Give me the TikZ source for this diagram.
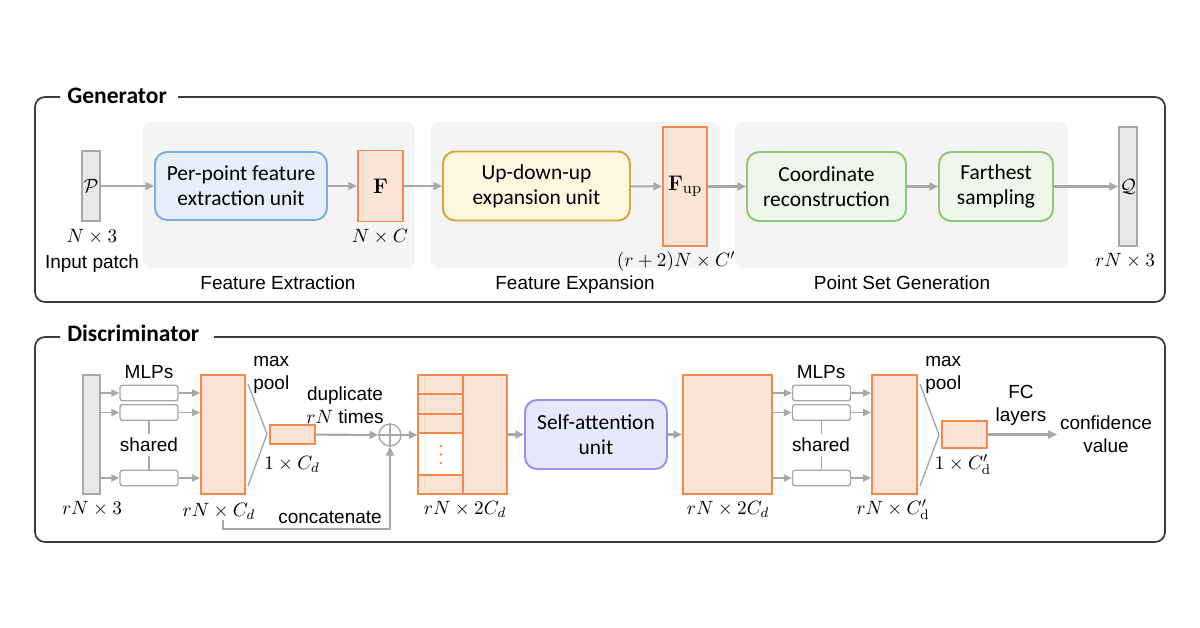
\documentclass[tikz,border=0pt]{standalone}
\usepackage[no-math]{fontspec}
\setmainfont{Liberation Sans}
\newfontfamily\calib{Carlito}
\usetikzlibrary{arrows.meta,calc}
\definecolor{arr}{HTML}{A8A8A8}
\definecolor{org}{HTML}{F38A4A}
\definecolor{orgf}{HTML}{FCE4D6}
\definecolor{bluef}{HTML}{E6EFF9}
\definecolor{blued}{HTML}{78AEE0}
\definecolor{yelf}{HTML}{FFF6E0}
\definecolor{yeld}{HTML}{D3A838}
\definecolor{grnf}{HTML}{EFF6EB}
\definecolor{grnd}{HTML}{8CC878}
\definecolor{lavf}{HTML}{E8E8FC}
\definecolor{lavd}{HTML}{9090F8}
\definecolor{panel}{HTML}{F4F4F4}
\definecolor{barf}{HTML}{E8E8E8}
\definecolor{framec}{HTML}{3A3A3A}
\newcommand{\lblfont}{\fontsize{10.8}{13}\selectfont}
\newcommand{\boxfont}{\calib\fontsize{12.2}{14.2}\selectfont}
\newcommand{\ttlfont}{\calib\bfseries\fontsize{13.4}{16}\selectfont}
\newcommand{\mathfont}{\fontsize{11}{13}\selectfont}
\newcommand{\bigmathfont}{\fontsize{13}{15}\selectfont}
\tikzset{
  lbl/.style={font=\lblfont, inner sep=0pt, align=center},
  one/.style={text height=0.8em, text depth=0.08em},
  mlbl/.style={font=\mathfont, inner sep=0pt, one},
  ttl/.style={font=\ttlfont, inner sep=0pt, anchor=west, one},
  unitbox/.style={draw, rounded corners=0.24cm, line width=1.1pt, font=\boxfont, align=center, inner sep=0pt},
  bluebox/.style={unitbox, draw=blued, fill=bluef},
  yelbox/.style={unitbox, draw=yeld, fill=yelf},
  grnbox/.style={unitbox, draw=grnd, fill=grnf},
  lavbox/.style={unitbox, draw=lavd, fill=lavf},
  feat/.style={draw=org, fill=orgf, line width=1.1pt, inner sep=0pt},
  graybar/.style={draw=arr, fill=barf, line width=1.1pt, inner sep=0pt},
  mlp/.style={draw=arr, fill=white, line width=0.8pt, rounded corners=0.05cm, inner sep=0pt, minimum width=1.16cm, minimum height=0.31cm},
  flow/.style={draw=arr, line width=1.2pt, -{Triangle[length=5pt,width=4.5pt]}},
  thinflow/.style={draw=arr, line width=1pt, -{Triangle[length=4.5pt,width=4pt]}},
  pool/.style={draw=arr, line width=0.8pt},
  frameline/.style={draw=framec, line width=1pt, rounded corners=0.2cm},
  panelbg/.style={fill=panel, rounded corners=0.16cm},
}
\begin{document}
\begin{tikzpicture}[x=0.02cm,y=-0.02cm]
\useasboundingbox (0,0) rectangle (1200,627);

% ================= Generator =================
\draw[frameline] (60,97) -| (35,302) -| (1165,97) -- (178,97);
\node[ttl] (gtitle) at (67,97) {Generator};

\fill[panelbg] (143,122) rectangle (415,268);
\fill[panelbg] (431,122) rectangle (720,268);
\fill[panelbg] (735,122) rectangle (1068,268);
\node[lbl, one] (fe) at (278,283) {Feature Extraction};
\node[lbl, one] (fx) at (575,283) {Feature Expansion};
\node[lbl, one] (psg) at (902,283) {Point Set Generation};

\node[graybar, minimum width=0.36cm, minimum height=1.4cm, font=\mathfont] (P) at (91,186) {$\mathcal{P}$};
\node[mlbl] (Pn) at (92,236) {$N\times 3$};
\node[lbl, one] (Pl) at (92,262) {Input patch};

\node[bluebox, minimum width=3.44cm, minimum height=1.36cm] (pp) at (241,186) {Per-point feature\\extraction unit};
\node[feat, minimum width=0.9cm, minimum height=1.42cm, font=\bigmathfont] (F) at (380.5,186) {$\mathbf{F}$};
\node[mlbl] (Fn) at (380,236) {$N\times C$};

\node[yelbox, minimum width=3.74cm, minimum height=1.38cm] (ud) at (536.5,186) {Up-down-up\\expansion unit};
\node[feat, minimum width=0.88cm, minimum height=2.38cm, font=\bigmathfont] (Fup) at (685,186.5) {$\mathbf{F}_{\mathrm{up}}$};
\node[mlbl] (Fupn) at (676,260) {$(r+2)N\times C'$};

\node[grnbox, minimum width=3.18cm, minimum height=1.38cm] (cr) at (826.5,186.5) {Coordinate\\reconstruction};
\node[grnbox, minimum width=2.28cm, minimum height=1.38cm] (fs) at (996,186.5) {Farthest\\sampling};

\node[graybar, minimum width=0.36cm, minimum height=2.38cm, font=\mathfont] (Q) at (1128,186.5) {$\mathcal{Q}$};
\node[mlbl] (Qn) at (1125,260) {$rN\times 3$};

\draw[flow] (P) -- (pp);
\draw[flow] (pp) -- (F);
\draw[flow] (F) -- (ud);
\draw[flow] (ud) -- (Fup);
\draw[flow] (Fup) -- (cr);
\draw[flow] (cr) -- (fs);
\draw[flow] (fs) -- (Q);

% ================= Discriminator =================
\draw[frameline] (60,337) -| (35,542) -| (1165,337) -- (214,337);
\node[ttl] (dtitle) at (67,335) {Discriminator};

% input
\node[graybar, minimum width=0.34cm, minimum height=2.38cm] (bar) at (91.5,434.5) {};
\node[mlbl] (barn) at (92,508) {$rN\times 3$};

% first shared MLPs
\node[mlp] (m1) at (149,393) {};
\node[mlp] (m2) at (149,412.5) {};
\node[mlp] (m3) at (149,478) {};
\node[lbl, one] (mlps1) at (149,372) {MLPs};
\node[lbl, one] (sh1) at (149,445) {shared};
\draw[pool] (m2.south) -- (149,434);
\draw[pool] (149,456) -- (m3.north);

\node[feat, minimum width=0.88cm, minimum height=2.38cm] (b1) at (223,434.5) {};
\node[mlbl] (b1n) at (219,510) {$rN\times C_d$};

\foreach \m in {m1,m2,m3}{
  \draw[thinflow] (\m.west -| bar.east) -- (\m.west);
  \draw[thinflow] (\m.east) -- (\m.east -| b1.west);
}

% max pool 1
\node[feat, minimum width=0.9cm, minimum height=0.38cm] (s1) at (292.5,434.5) {};
\coordinate (t1) at (267,434);
\draw[pool] (248,384) -- (t1) -- (248,486);
\node[lbl, align=left, anchor=west] (mp1) at (253,375) {max\\pool};
\node[mlbl] (s1n) at (292,463) {$1\times C_d$};
\node[lbl] (dup) at (345,405) {duplicate\\$rN$ times};

\node[circle, draw=arr, line width=0.8pt, minimum size=0.44cm, inner sep=0pt] (op) at (390,435) {};
\draw[arr, line width=0.8pt] (op.north) -- (op.south) (op.west) -- (op.east);
\draw[flow] (s1) -- (op);
\coordinate (c0) at (223,520);
\draw[flow] (c0) -- (223,529) -| (op.south);
\node[lbl, one] (cat) at (330,517) {concatenate};

% stacked feature block
\node[fill=orgf, inner sep=0pt, minimum width=1.78cm, minimum height=2.38cm] (st) at (462.5,434.5) {};
\fill[white] (418,433) rectangle (463,475);
\draw[org, line width=1.1pt] (463,375) -- (463,494);
\draw[org, line width=1.1pt] (418,394) -- (463,394) (418,414) -- (463,414) (418,433) -- (463,433) (418,475) -- (463,475);
\draw[org, line width=1.1pt] (st.north west) rectangle (st.south east);
\foreach \yy in {446,454.5,463} \fill[org] (441,\yy) circle (1.3);
\node[mlbl] (stn) at (465,508) {$rN\times 2C_d$};
\draw[flow] (op) -- (st);

\node[lavbox, minimum width=2.84cm, minimum height=1.38cm] (sa) at (596,434.5) {Self-attention\\unit};
\draw[flow] (st) -- (sa);

\node[feat, minimum width=1.78cm, minimum height=2.38cm] (b2) at (727.5,434.5) {};
\node[mlbl] (b2n) at (728,508) {$rN\times 2C_d$};
\draw[flow] (sa) -- (b2);

% second shared MLPs
\node[mlp] (n1) at (821.5,393) {};
\node[mlp] (n2) at (821.5,412.5) {};
\node[mlp] (n3) at (821.5,478) {};
\node[lbl, one] (mlps2) at (821,372) {MLPs};
\node[lbl, one] (sh2) at (821,445) {shared};
\draw[pool] (n2.south) -- (821.5,434);
\draw[pool] (821.5,456) -- (n3.north);

\node[feat, minimum width=0.9cm, minimum height=2.38cm] (b3) at (894.5,434.5) {};
\node[mlbl] (b3n) at (893,508) {$rN\times C'_{\mathrm{d}}$};

\foreach \m in {n1,n2,n3}{
  \draw[thinflow] (\m.west -| b2.east) -- (\m.west);
  \draw[thinflow] (\m.east) -- (\m.east -| b3.west);
}

% max pool 2
\node[feat, minimum width=0.9cm, minimum height=0.54cm] (s2) at (964.5,434.5) {};
\coordinate (t2) at (939,435);
\draw[pool] (920,384) -- (t2) -- (920,486);
\node[lbl, align=left, anchor=west] (mp2) at (925,375) {max\\pool};
\node[mlbl] (s2n) at (963,463) {$1\times C'_{\mathrm{d}}$};
\node[lbl] (fc) at (1021,405) {FC\\layers};
\coordinate (cv0) at (1057,434.5);
\draw[flow] (s2) -- (cv0);
\node[lbl] (cv) at (1106,434) {confidence\\value};
\end{tikzpicture}
\end{document}
